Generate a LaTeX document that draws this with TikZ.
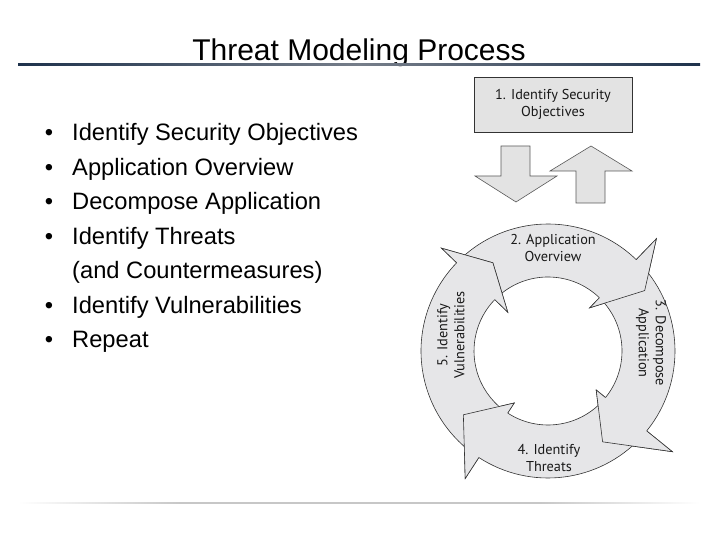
\documentclass[tikz,border=0pt]{standalone}
\usepackage{fontspec}
\setmainfont{Liberation Sans}
\newfontfamily\stepfont{PT Sans}
\definecolor{ringgray}{RGB}{230,230,232}
\definecolor{boxgray}{RGB}{227,227,227}
\definecolor{rulenavy}{RGB}{30,50,76}
\definecolor{rulemid}{RGB}{118,126,138}
\begin{document}
\begin{tikzpicture}[x=1pt,y=1pt,
  item/.style={anchor=base west,inner sep=0pt,font=\fontsize{23.7}{28}\selectfont},
  dot/.style={anchor=base,inner sep=0pt,font=\fontsize{23.7}{28}\selectfont},
  steplabel/.style={align=center,inner sep=0pt,text=black!90,
    font=\stepfont\fontsize{14.3}{17}\selectfont},
  ringpart/.style={fill=ringgray,draw=black!80,line width=0.6pt,line join=miter},
  bigarrow/.style={fill=boxgray,draw=black!65,line width=0.6pt}]
\useasboundingbox (0,0) rectangle (720,540);
\node[anchor=base,inner sep=0pt,font=\fontsize{30}{35}\selectfont] (title)
  at (359,479) {Threat Modeling Process};
\shade[left color=rulenavy,right color=rulemid] (18,474) rectangle (359,476);
\shade[left color=rulemid,right color=rulenavy] (359,474) rectangle (700,476);
\shade[left color=white,right color=black!22] (18,36) rectangle (180,37.5);
\fill[black!22] (180,36) rectangle (540,37.5);
\shade[left color=black!22,right color=white] (540,36) rectangle (700,37.5);
\node[dot] (d1) at (49,399) {•};
\node[item] (i1) at (72,399) {Identify Security Objectives};
\node[dot] (d2) at (49,364.5) {•};
\node[item] (i2) at (72,364.5) {Application Overview};
\node[dot] (d3) at (49,330) {•};
\node[item] (i3) at (72,330) {Decompose Application};
\node[dot] (d4) at (49,295.5) {•};
\node[item] (i4) at (72,295.5) {Identify Threats};
\node[item] (i4b) at (72,261) {(and Countermeasures)};
\node[dot] (d5) at (49,226.5) {•};
\node[item] (i5) at (72,226.5) {Identify Vulnerabilities};
\node[dot] (d6) at (49,192) {•};
\node[item] (i6) at (72,192) {Repeat};
\node[steplabel,draw=black!80,fill=boxgray,line width=0.8pt,
  minimum width=158pt,minimum height=55pt] (objectives) at (553,435.5)
  {1. Identify Security\\Objectives};
\draw[bigarrow] (501,394) -- (530,394) -- (530,364) -- (557,364) -- (516,338)
  -- (475,364) -- (501,364) -- cycle;
\draw[bigarrow] (576,337) -- (605,337) -- (605,369) -- (632,369) -- (591,394)
  -- (550,369) -- (576,369) -- cycle;
\begin{scope}[shift={(548,189)}]
\foreach \s/\b/\t/\ro/\ri/\rt in {133/46/32/156/60/114,43/-39/-59/160/62/106,
  -43/-123/-143/152/62/106,233/136/122/148/56/104}
  \draw[ringpart] (\s:127) arc[start angle=\s,end angle=\b,radius=127pt]
    -- (\b:\ro) -- (\t:\rt) -- (\b:\ri) -- (\b:74)
    arc[start angle=\b,end angle=\s,radius=74pt] -- cycle;
\foreach \b/\t/\ro/\ri/\rt in {46/32/156/60/114,-39/-59/160/62/106,
  -123/-143/152/62/106,136/122/148/56/104}{
  \fill[ringgray] (\b:\ro) -- (\t:\rt) -- (\b:\ri) -- cycle;
  \draw[black!80,line width=0.6pt,line join=miter]
    (\b:127) -- (\b:\ro) -- (\t:\rt) -- (\b:\ri) -- (\b:74);
}
\end{scope}
\node[steplabel] (overview) at (553,292) {2. Application\\Overview};
\node[steplabel,rotate=-90] (decompose) at (651,197) {3. Decompose\\Application};
\node[steplabel] (threats) at (549,82) {4. Identify\\Threats};
\node[steplabel,rotate=90] (vulns) at (451,205) {5. Identify\\Vulnerabilities};
\end{tikzpicture}
\end{document}
